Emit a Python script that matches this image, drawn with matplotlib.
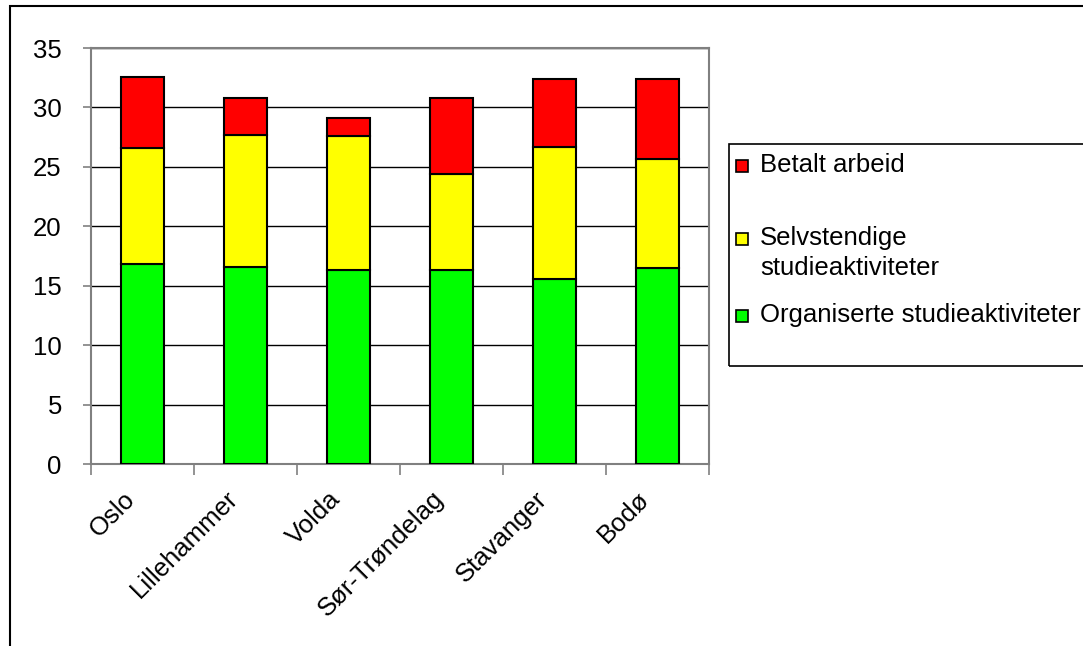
import numpy as np
import matplotlib
matplotlib.use("Agg")
import matplotlib.pyplot as plt
from matplotlib.patches import Rectangle
from matplotlib.transforms import ScaledTranslation

plt.rcParams['font.family'] = ['Liberation Sans', 'DejaVu Sans']

steder = ["Oslo", "Lillehammer", "Volda", "Sør-Trøndelag", "Stavanger", "Bodø"]
organiserte = [16.8, 16.6, 16.3, 16.3, 15.6, 16.5]
selvstendige = [9.8, 11.1, 11.3, 8.1, 11.1, 9.2]
betalt = [6.0, 3.1, 1.5, 6.4, 5.7, 6.7]

serier = ["Organiserte studieaktiviteter", "Selvstendige\nstudieaktiviteter", "Betalt arbeid"]
farger = ["#00FF00", "#FFFF00", "#FF0000"]

W, H = 1083, 646
fs = 18.5
fig = plt.figure(figsize=(W / 100, H / 100), dpi=100)
ax = fig.add_axes([91 / W, 1 - 464 / H, (709 - 91) / W, (464 - 48) / H])

x = np.arange(len(steder))
bunn = np.zeros(len(steder))
for verdier, farge in zip([organiserte, selvstendige, betalt], farger):
    ax.bar(x, verdier, 0.42, bottom=bunn, color=farge, edgecolor="black",
           linewidth=1.5, zorder=3)
    bunn += np.array(verdier)

ax.set_xlim(-0.5, len(steder) - 0.5)
ax.set_ylim(0, 35)
ax.set_yticks(np.arange(0, 36, 5))
ax.yaxis.grid(True, color="black", linewidth=1, zorder=0)
for s in ax.spines.values():
    s.set_color("#808080")
    s.set_linewidth(1.5)

ax.set_xticks(np.arange(-0.5, len(steder)), minor=False)
ax.set_xticklabels([])
ax.set_xticks(x, minor=True)
ax.set_xticklabels(steder, minor=True, rotation=45, ha="right",
                   rotation_mode="anchor", fontsize=fs)
ax.tick_params(axis="x", which="major", length=8, color="#808080", width=1.2)
ax.tick_params(axis="x", which="minor", length=0, pad=12)
ax.tick_params(axis="y", length=6, color="#808080", width=1.2, labelsize=fs, pad=15)

# flytt etikettene litt ned/venstre som i Excel
flytt = ScaledTranslation(-20 / 100, -6 / 100, fig.dpi_scale_trans)
for lbl in ax.get_xticklabels(minor=True):
    lbl.set_transform(lbl.get_transform() + flytt)

# ytre ramme (kuttet i høyre og nedre kant)
fig.patches.append(Rectangle((10 / W, -0.1), 1.2, 1.1 - 6 / H, transform=fig.transFigure,
                             fill=False, edgecolor="black", linewidth=1.5))

# legend
fig.patches.append(Rectangle((729 / W, 1 - 366 / H), 0.5, (366 - 144) / H,
                             transform=fig.transFigure, fill=False,
                             edgecolor="black", linewidth=1.2))
leg_y = [166, 239, 316]
for navn, farge, yy in zip(serier[::-1], farger[::-1], leg_y):
    fig.patches.append(Rectangle((736 / W, 1 - (yy + 6) / H), 12 / W, 12 / H,
                                 transform=fig.transFigure, facecolor=farge,
                                 edgecolor="black", linewidth=1.2))
    fig.text(760 / W, 1 - (yy - 13) / H, navn, fontsize=fs, va="top",
             linespacing=1.3)

fig.savefig("out.png", dpi=100)
